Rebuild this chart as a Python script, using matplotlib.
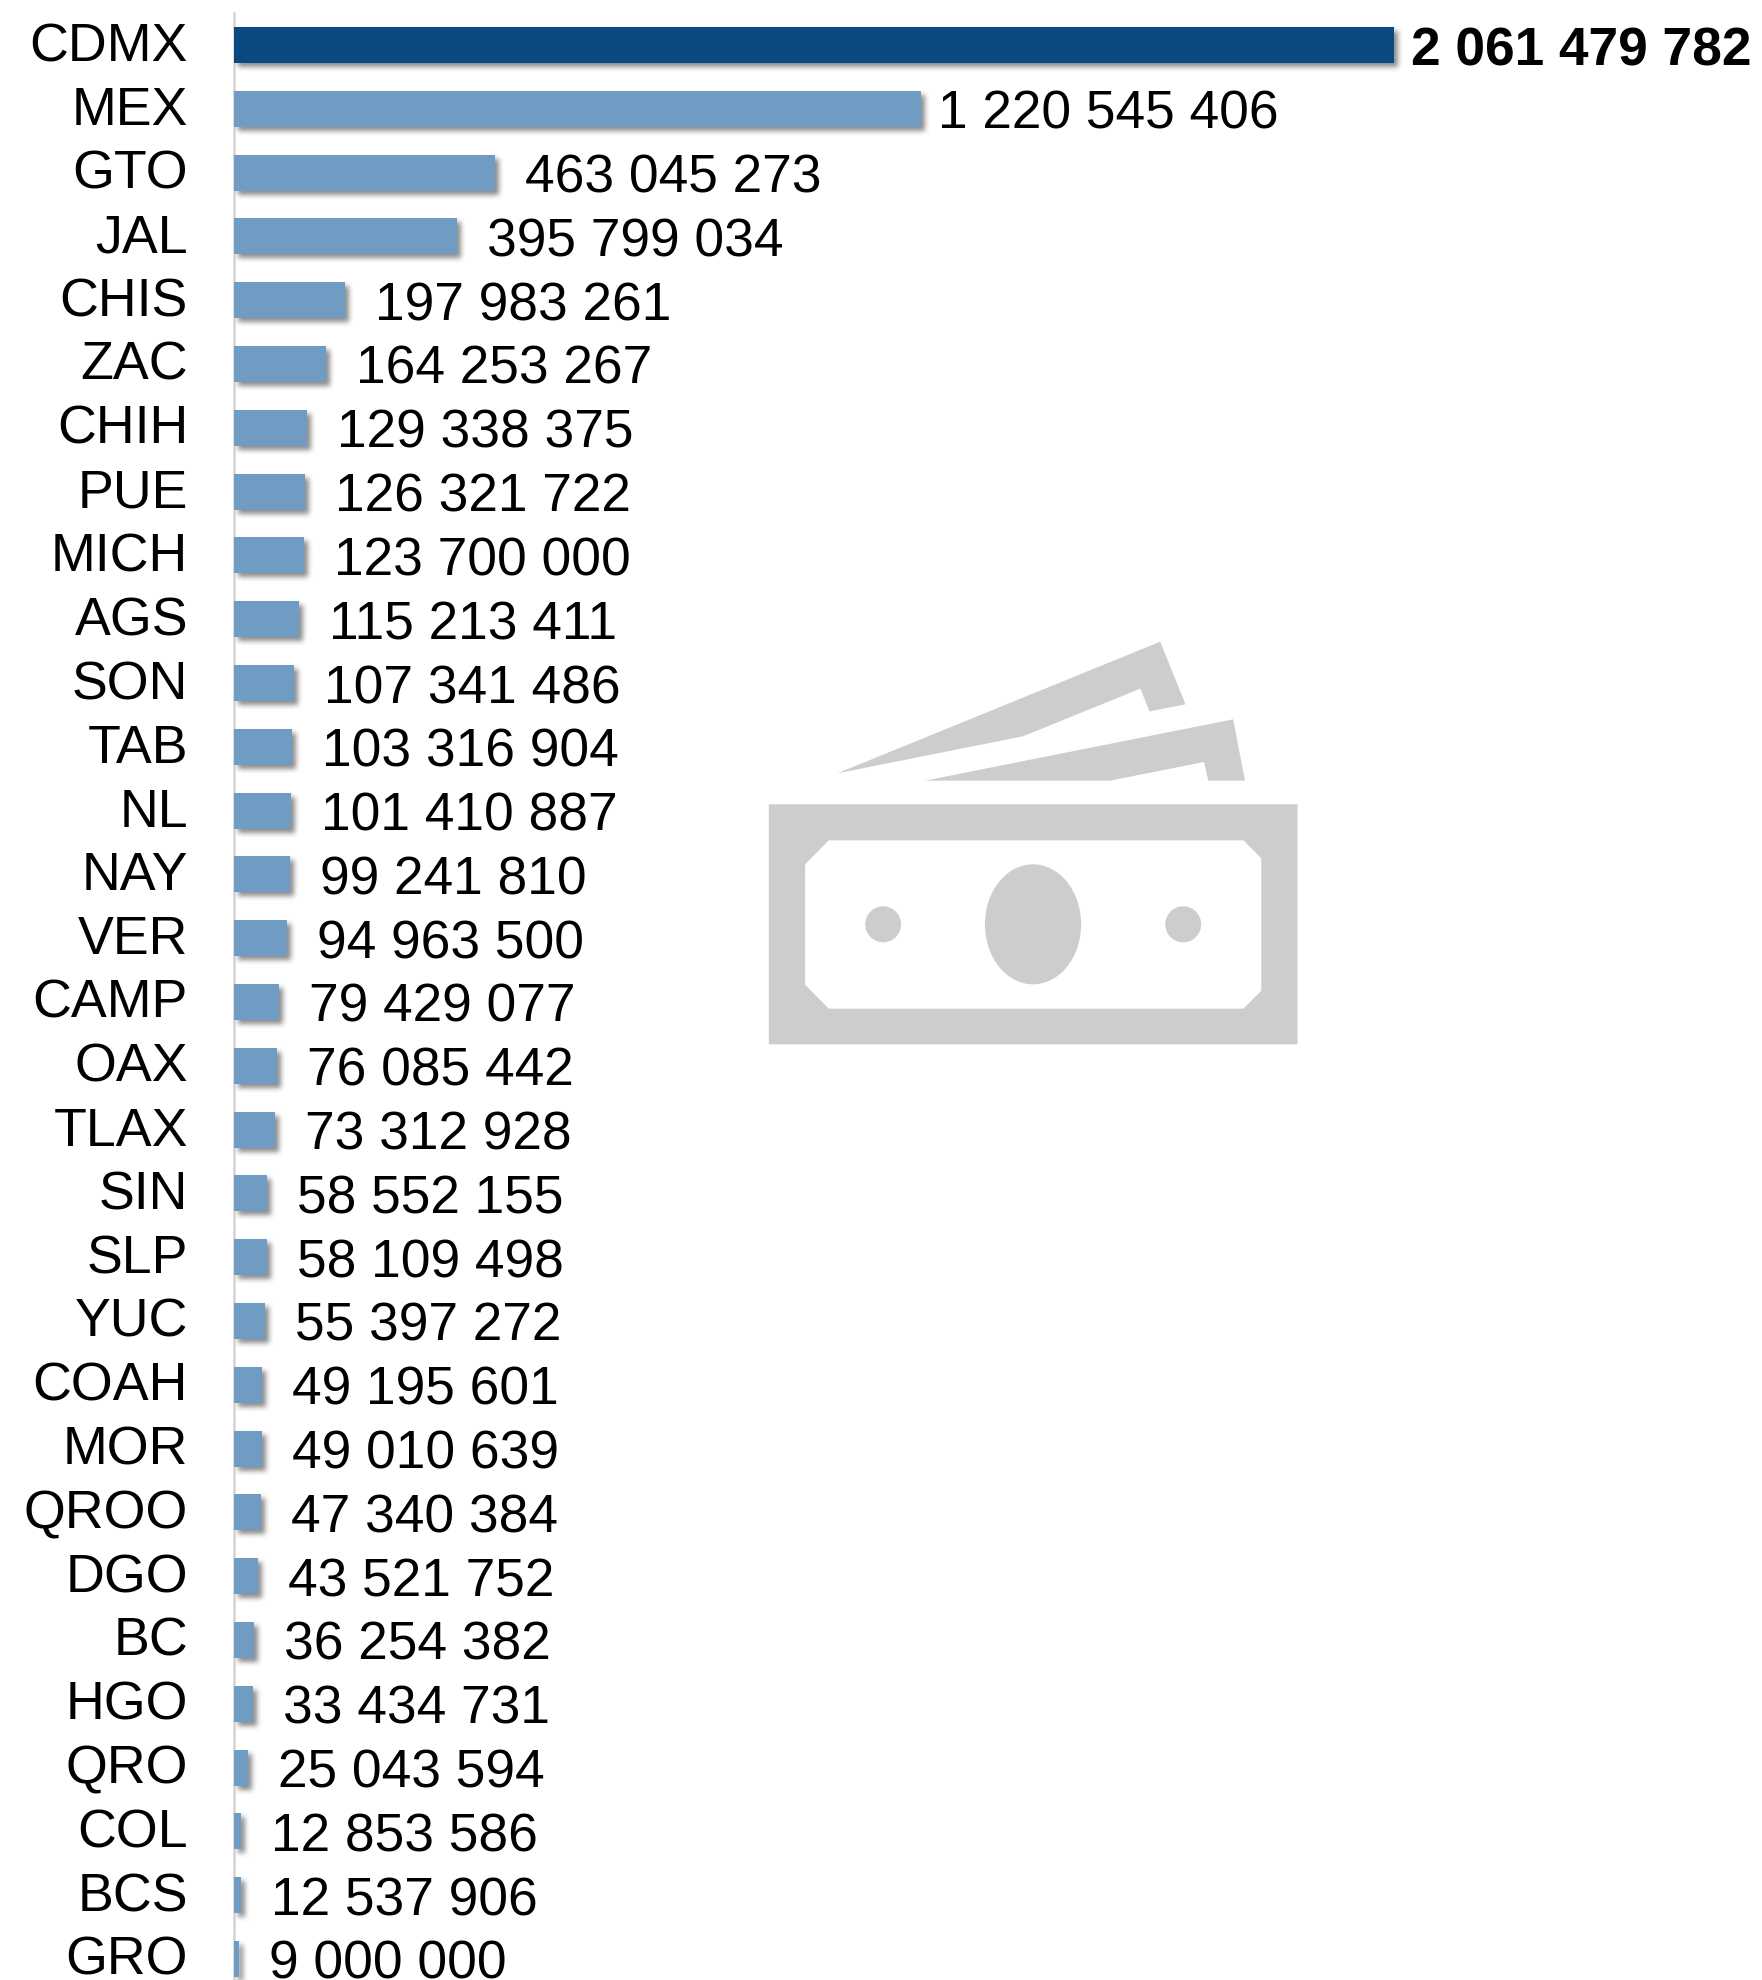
import matplotlib
matplotlib.use('Agg')
import matplotlib.pyplot as plt
from matplotlib.patches import Ellipse, PathPatch, Polygon
from matplotlib.path import Path
from matplotlib.transforms import ScaledTranslation
import numpy as np

plt.rcParams['font.family'] = ['Liberation Sans', 'DejaVu Sans']

# Data

states = ['CDMX', 'MEX', 'GTO', 'JAL', 'CHIS', 'ZAC', 'CHIH', 'PUE', 'MICH', 'AGS',
          'SON', 'TAB', 'NL', 'NAY', 'VER', 'CAMP', 'OAX', 'TLAX', 'SIN', 'SLP',
          'YUC', 'COAH', 'MOR', 'QROO', 'DGO', 'BC', 'HGO', 'QRO', 'COL', 'BCS', 'GRO']
amounts = [2061479782, 1220545406, 463045273, 395799034, 197983261, 164253267,
           129338375, 126321722, 123700000, 115213411, 107341486, 103316904,
           101410887, 99241810, 94963500, 79429077, 76085442, 73312928,
           58552155, 58109498, 55397272, 49195601, 49010639, 47340384,
           43521752, 36254382, 33434731, 25043594, 12853586, 12537906, 9000000]

# Layout, in pixels of the final image

W, H = 1762, 1980
x0 = 234
full_bar = 1160
y_first = 45
y_step = 63.8
top = 13
fs_state = 53.8 * 72 / 100
fs_value = 53.2 * 72 / 100

fig = plt.figure(figsize=(W / 100, H / 100), dpi=100)

# the icon sits behind everything, in its own pixel axes

bg = fig.add_axes([0, 0, 1, 1])
bg.set_xlim(0, W)
bg.set_ylim(H, 0)
bg.axis('off')


def ix(pts):
    """crop coordinates of the icon -> image pixels"""
    return [(740 + a / 2.703, 620 + b / 3) for a, b in pts]


grey = '#cdcdcd'
outer = ix([(78, 553), (1507, 553), (1507, 1273), (78, 1273), (78, 553)])
inner = ix([(240, 661), (176, 733), (176, 1094), (240, 1166), (1361, 1166),
            (1409, 1112), (1409, 715), (1361, 661), (240, 661)])
codes = [Path.MOVETO] + [Path.LINETO] * 3 + [Path.CLOSEPOLY]
codes2 = [Path.MOVETO] + [Path.LINETO] * 7 + [Path.CLOSEPOLY]
bg.add_patch(PathPatch(Path(outer + inner, codes + codes2), fc=grey, ec='none'))
bg.add_patch(Polygon(ix([(263, 460), (1136, 65), (1204, 253), (1107, 274), (1082, 206), (765, 349)]),
                     fc=grey, ec='none'))
bg.add_patch(Polygon(ix([(500, 482), (1333, 298), (1365, 482), (1266, 482), (1254, 426), (1000, 482)]),
                     fc=grey, ec='none'))
for cx, w, h in [(792, 260, 360), (387, 97, 108), (1198, 97, 108)]:
    (px, py), = ix([(cx, 913)])
    bg.add_patch(Ellipse((px, py), w / 2.703, h / 3, fc=grey, ec='none'))

# the bars

ax = fig.add_axes([x0 / W, 0, (W - x0) / W, (H - top) / H])
ax.patch.set_alpha(0)
ax.set_xlim(0, (W - x0) / full_bar * amounts[0])
ax.set_ylim((H - y_first) / y_step, (top - y_first) / y_step)

for side in ['top', 'right', 'bottom']:
    ax.spines[side].set_visible(False)
ax.spines['left'].set_color('#d4d4d4')
ax.spines['left'].set_linewidth(1.8)
ax.xaxis.set_visible(False)


def soft_shadow(img, dpi):
    """blur the alpha channel and move it a little to the lower right"""
    pad = 20
    a = np.pad(img[:, :, 3], pad)
    kernel = np.array([1, 2, 3, 4, 5, 6, 5, 4, 3, 2, 1], dtype=float)
    kernel /= kernel.sum()
    a = np.apply_along_axis(np.convolve, 0, a, kernel, mode='same')
    a = np.apply_along_axis(np.convolve, 1, a, kernel, mode='same')
    a = np.roll(np.roll(a, 4, axis=0), 4, axis=1)
    out = np.zeros(a.shape + (4,))
    out[:, :, :3] = 0.25
    out[:, :, 3] = a * 0.6
    return out, -pad, -pad


y = np.arange(len(states))
shadows = ax.barh(y, amounts, height=0.565, color='k', zorder=2)
for p in shadows:
    p.set_agg_filter(soft_shadow)
colors = ['#0a4a80'] + ['#709bc2'] * (len(states) - 1)
ax.barh(y, amounts, height=0.565, color=colors, zorder=3)

# state labels

ax.set_yticks(y)
ax.set_yticklabels(states, fontsize=fs_state, color='k', va='baseline')
ax.tick_params(axis='y', length=0, pad=46 * 72 / 100)
shift = ScaledTranslation(0, -16 / 100, fig.dpi_scale_trans)
for lab in ax.get_yticklabels():
    lab.set_transform(lab.get_transform() + shift)

# value labels

for i, v in enumerate(amounts):
    txt = f'{v:,}'.replace(',', ' ')
    gap = 17 if i < 2 else 30
    ax.annotate(txt, (v, i), xytext=(gap * 0.72, -20 * 0.72), textcoords='offset points',
                ha='left', va='baseline', fontsize=fs_value, color='k',
                fontweight='bold' if i == 0 else 'normal',
                annotation_clip=False, zorder=4)

fig.savefig('out.png', dpi=100)
